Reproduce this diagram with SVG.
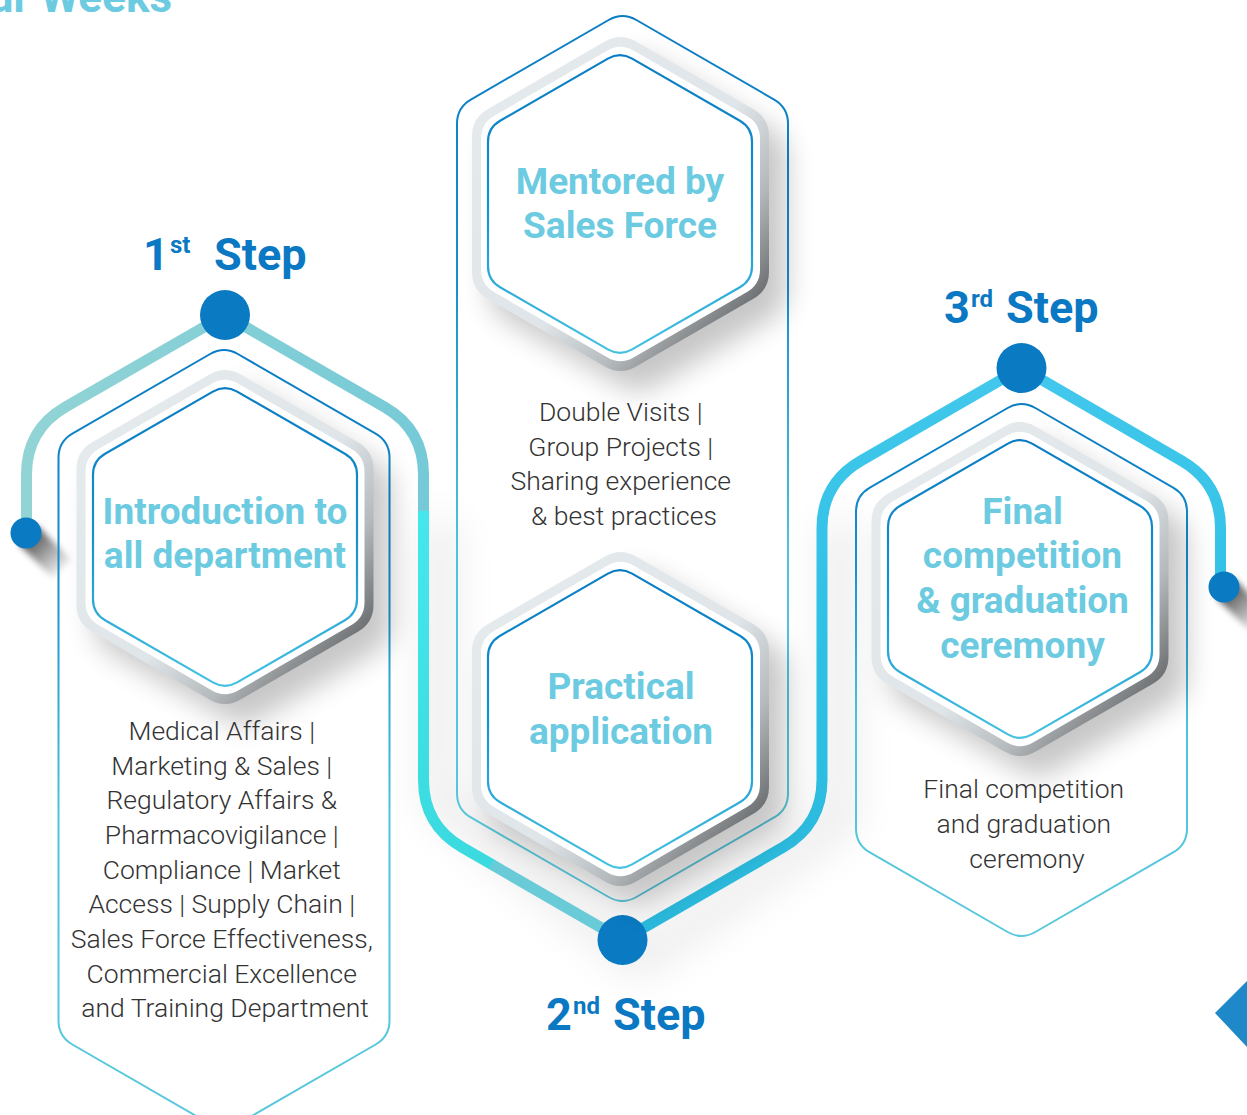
<svg xmlns="http://www.w3.org/2000/svg" xmlns:xlink="http://www.w3.org/1999/xlink" width="1247" height="1115" viewBox="0 0 1247 1115">
  <style>
    .title { font-family: Roboto, "Liberation Sans", sans-serif; font-weight: 700; font-size: 37px; fill: #6ccbe0; text-anchor: middle; }
    .body { font-family: Roboto, "Liberation Sans", sans-serif; font-weight: 300; font-size: 26.5px; fill: #333333; text-anchor: middle; }
    .step { font-family: Roboto, "Liberation Sans", sans-serif; font-weight: 700; font-size: 45px; fill: #0a78c2; }
    .sup { font-size: 24px; }
    .outline { fill: none; stroke: url(#outlineGrad); stroke-width: 2; }
    .inner { fill: #ffffff; stroke: url(#innerGrad); stroke-width: 2.2; }
    .track { fill: none; stroke-width: 11; stroke-linecap: butt; stroke-linejoin: round; }
    .dot { fill: #0a7ac2; }
  </style>
  <defs>
    <!-- rounded pointy-top hexagons centred on the origin -->
    <path id="hexInner" d="M -12.12,-145.42 Q 0,-152.42 12.12,-145.42 L 119.88,-83.21 Q 132,-76.21 132,-62.21 L 132,62.21 Q 132,76.21 119.88,83.21 L 12.12,145.42 Q 0,152.42 -12.12,145.42 L -119.88,83.21 Q -132,76.21 -132,62.21 L -132,-62.21 Q -132,-76.21 -119.88,-83.21 Z"/>
    <path id="hexWhite" d="M -12.99,-153.58 Q 0,-161.08 12.99,-153.58 L 126.51,-88.04 Q 139.5,-80.54 139.5,-65.54 L 139.5,65.54 Q 139.5,80.54 126.51,88.04 L 12.99,153.58 Q 0,161.08 -12.99,153.58 L -126.51,88.04 Q -139.5,80.54 -139.5,65.54 L -139.5,-65.54 Q -139.5,-80.54 -126.51,-88.04 Z"/>
    <path id="hexRing" d="M -15.59,-162.47 Q 0,-171.47 15.59,-162.47 L 132.91,-94.74 Q 148.5,-85.74 148.5,-67.74 L 148.5,67.74 Q 148.5,85.74 132.91,94.74 L 15.59,162.47 Q 0,171.47 -15.59,162.47 L -132.91,94.74 Q -148.5,85.74 -148.5,67.74 L -148.5,-67.74 Q -148.5,-85.74 -132.91,-94.74 Z"/>

    <linearGradient id="ringGrad" x1="0" y1="0" x2="1" y2="1">
      <stop offset="0" stop-color="#e6ebee"/>
      <stop offset="0.55" stop-color="#dfe5e8"/>
      <stop offset="0.72" stop-color="#b4b9bc"/>
      <stop offset="0.88" stop-color="#6b6e71"/>
      <stop offset="1" stop-color="#4a4d50"/>
    </linearGradient>
    <linearGradient id="innerGrad" x1="0" y1="0" x2="0" y2="1">
      <stop offset="0" stop-color="#0a7cc3"/>
      <stop offset="0.5" stop-color="#1591cf"/>
      <stop offset="1" stop-color="#44c2e0"/>
    </linearGradient>
    <linearGradient id="outlineGrad" x1="0" y1="0" x2="0" y2="1">
      <stop offset="0" stop-color="#0a7cc3"/>
      <stop offset="0.3" stop-color="#1690cd"/>
      <stop offset="0.6" stop-color="#4ec3dc"/>
      <stop offset="1" stop-color="#5ac8dc"/>
    </linearGradient>
    <linearGradient id="trackA" gradientUnits="userSpaceOnUse" x1="26" y1="0" x2="423" y2="0">
      <stop offset="0" stop-color="#92d4d5"/>
      <stop offset="1" stop-color="#76cad7"/>
    </linearGradient>
    <linearGradient id="trackB" gradientUnits="userSpaceOnUse" x1="0" y1="512" x2="0" y2="865">
      <stop offset="0" stop-color="#44e8ec"/>
      <stop offset="1" stop-color="#3adadf"/>
    </linearGradient>
    <linearGradient id="trackD" gradientUnits="userSpaceOnUse" x1="0" y1="940" x2="0" y2="368">
      <stop offset="0" stop-color="#2bb9db"/>
      <stop offset="0.5" stop-color="#2ec0e4"/>
      <stop offset="1" stop-color="#42c8ec"/>
    </linearGradient>
    <linearGradient id="tailShadowL" gradientUnits="userSpaceOnUse" x1="28" y1="535" x2="66" y2="573">
      <stop offset="0" stop-color="#000" stop-opacity="0.7"/>
      <stop offset="1" stop-color="#000" stop-opacity="0"/>
    </linearGradient>
    <linearGradient id="tailShadowR" gradientUnits="userSpaceOnUse" x1="1226" y1="589" x2="1264" y2="627">
      <stop offset="0" stop-color="#000" stop-opacity="0.7"/>
      <stop offset="1" stop-color="#000" stop-opacity="0"/>
    </linearGradient>

    <filter id="soft" x="-50%" y="-50%" width="200%" height="200%">
      <feGaussianBlur stdDeviation="14"/>
    </filter>
    <filter id="wide" x="-50%" y="-50%" width="200%" height="200%">
      <feGaussianBlur stdDeviation="22"/>
    </filter>
    <filter id="tight" x="-50%" y="-50%" width="200%" height="200%">
      <feGaussianBlur stdDeviation="3"/>
    </filter>
  </defs>

  <rect width="1247" height="1115" fill="#ffffff"/>

  <!-- heading, running off the top edge -->
  <text x="172" y="12" font-family="Roboto, 'Liberation Sans', sans-serif" font-weight="700" font-size="44" fill="#6ccbe0" text-anchor="end">ur Weeks</text>

  <!-- soft shadows below the track -->
  <g id="shadows" fill="none" stroke="#000" opacity="0.1" stroke-width="26" filter="url(#wide)">
    <path d="M 440,520 L 440,800 L 640,960 L 840,820 L 840,520"/>
  </g>

  <!-- connectors: the winding track that links the three steps -->
  <g id="connectors">
    <path class="track" stroke="url(#trackA)" d="M 26.5,533 L 26.5,474.6 Q 26.5,429.6 65.47,407.1 L 225,315 L 384.53,407.1 Q 423.5,429.6 423.5,474.6 L 423.5,512"/>
    <path class="track" stroke="url(#trackB)" d="M 423.5,511 L 423.5,780.1 Q 423.5,825.1 462.47,847.6 L 492,864.6"/>
    <path class="track" stroke="#6acbd8" d="M 491.5,864.3 L 622.5,940"/>
    <path class="track" stroke="url(#trackD)" d="M 622,940.3 L 783.03,847.3 Q 822,824.8 822,779.8 L 822,528.2 Q 822,483.2 860.97,460.7 L 1021.5,368 L 1181.53,460.7 Q 1220.5,483.2 1220.5,528.2 L 1220.5,587"/>
    <!-- long shadows behind the two end caps -->
    <line x1="28" y1="535" x2="62" y2="569" stroke="url(#tailShadowL)" stroke-width="26" filter="url(#tight)"/>
    <line x1="1226" y1="589" x2="1260" y2="623" stroke="url(#tailShadowR)" stroke-width="26" filter="url(#tight)"/>
  </g>

  <!-- step 1 -->
  <g id="step1">
    <path class="outline" d="M 210.14,354 Q 224,346 237.86,354 L 375.64,433.55 Q 389.5,441.55 389.5,457.55 L 389.5,1020.5 Q 389.5,1036.5 375.64,1044.5 L 237.86,1124.05 Q 224,1132.05 210.14,1124.05 L 72.36,1044.5 Q 58.5,1036.5 58.5,1020.5 L 58.5,457.55 Q 58.5,441.55 72.36,433.55 Z"/>
    <use xlink:href="#hexRing" transform="translate(243,557)" fill="#000" opacity="0.22" filter="url(#soft)"/>
    <use xlink:href="#hexRing" transform="translate(225,537)" fill="url(#ringGrad)"/>
    <use xlink:href="#hexWhite" transform="translate(225,537)" fill="#ffffff"/>
    <use xlink:href="#hexInner" transform="translate(225,537)" class="inner"/>
    <text class="title"><tspan x="225" y="524">Introduction to</tspan><tspan x="225" y="568">all department</tspan></text>
    <text class="body">
      <tspan x="225" y="740">Medical Affairs |</tspan>
      <tspan x="225" y="775">Marketing &amp; Sales |</tspan>
      <tspan x="225" y="809">Regulatory Affairs &amp;</tspan>
      <tspan x="225" y="844">Pharmacovigilance |</tspan>
      <tspan x="225" y="879">Compliance | Market</tspan>
      <tspan x="225" y="913">Access | Supply Chain |</tspan>
      <tspan x="225" y="948">Sales Force Effectiveness,</tspan>
      <tspan x="225" y="983">Commercial Excellence</tspan>
      <tspan x="225" y="1017">and Training Department</tspan>
    </text>
    <circle class="dot" cx="225" cy="315" r="25"/>
    <circle class="dot" cx="26" cy="533" r="15.5"/>
    <text class="step"><tspan x="143" y="270">1</tspan><tspan class="sup" x="170" y="253">st</tspan><tspan x="214" y="270">Step</tspan></text>
  </g>

  <!-- step 2 -->
  <g id="step2">
    <path class="outline" d="M 608.64,20 Q 622.5,12 636.36,20 L 774.14,99.55 Q 788,107.55 788,123.55 L 788,793.45 Q 788,809.45 774.14,817.45 L 636.36,897 Q 622.5,905 608.64,897 L 470.86,817.45 Q 457,809.45 457,793.45 L 457,123.55 Q 457,107.55 470.86,99.55 Z"/>
    <text class="body">
      <tspan x="624" y="421">Double Visits |</tspan>
      <tspan x="624" y="456">Group Projects |</tspan>
      <tspan x="624" y="490">Sharing experience</tspan>
      <tspan x="624" y="525">&amp; best practices</tspan>
    </text>
    <circle class="dot" cx="622.5" cy="940" r="25"/>
    <text class="step"><tspan x="546" y="1030">2</tspan><tspan class="sup" x="573" y="1014">nd</tspan><tspan x="613" y="1030">Step</tspan></text>
  </g>

  <g id="mentored">
    <use xlink:href="#hexRing" transform="translate(638,224)" fill="#000" opacity="0.22" filter="url(#soft)"/>
    <use xlink:href="#hexRing" transform="translate(620.5,204)" fill="url(#ringGrad)"/>
    <use xlink:href="#hexWhite" transform="translate(620.5,204)" fill="#ffffff"/>
    <use xlink:href="#hexInner" transform="translate(620,204)" class="inner"/>
    <text class="title"><tspan x="620" y="194">Mentored by</tspan><tspan x="620" y="238">Sales Force</tspan></text>
  </g>

  <g id="practical">
    <use xlink:href="#hexRing" transform="translate(638,739)" fill="#000" opacity="0.22" filter="url(#soft)"/>
    <use xlink:href="#hexRing" transform="translate(620.5,719)" fill="url(#ringGrad)"/>
    <use xlink:href="#hexWhite" transform="translate(620.5,719)" fill="#ffffff"/>
    <use xlink:href="#hexInner" transform="translate(620,719)" class="inner"/>
    <text class="title"><tspan x="621" y="699">Practical</tspan><tspan x="621" y="744">application</tspan></text>
  </g>

  <!-- step 3 -->
  <g id="step3">
    <path class="outline" d="M 1007.64,408 Q 1021.5,400 1035.36,408 L 1173.14,487.55 Q 1187,495.55 1187,511.55 L 1187,828.45 Q 1187,844.45 1173.14,852.45 L 1035.36,932 Q 1021.5,940 1007.64,932 L 869.86,852.45 Q 856,844.45 856,828.45 L 856,511.55 Q 856,495.55 869.86,487.55 Z"/>
    <use xlink:href="#hexRing" transform="translate(1038,609)" fill="#000" opacity="0.22" filter="url(#soft)"/>
    <use xlink:href="#hexRing" transform="translate(1020,589)" fill="url(#ringGrad)"/>
    <use xlink:href="#hexWhite" transform="translate(1020,589)" fill="#ffffff"/>
    <use xlink:href="#hexInner" transform="translate(1020,589)" class="inner"/>
    <text class="title"><tspan x="1022.5" y="524">Final</tspan><tspan x="1022.5" y="568">competition</tspan><tspan x="1022.5" y="613">&amp; graduation</tspan><tspan x="1022.5" y="658">ceremony</tspan></text>
    <text class="body">
      <tspan x="1027" y="798">Final competition</tspan>
      <tspan x="1027" y="833">and graduation</tspan>
      <tspan x="1027" y="868">ceremony</tspan>
    </text>
    <circle class="dot" cx="1021.5" cy="368" r="25"/>
    <circle class="dot" cx="1224" cy="587" r="15.5"/>
    <text class="step"><tspan x="944" y="323">3</tspan><tspan class="sup" x="971" y="307">rd</tspan><tspan x="1006" y="323">Step</tspan></text>
  </g>

  <!-- corner marker -->
  <polygon points="1215,1013 1247,981 1247,1047" fill="#1e88c9"/>
</svg>
